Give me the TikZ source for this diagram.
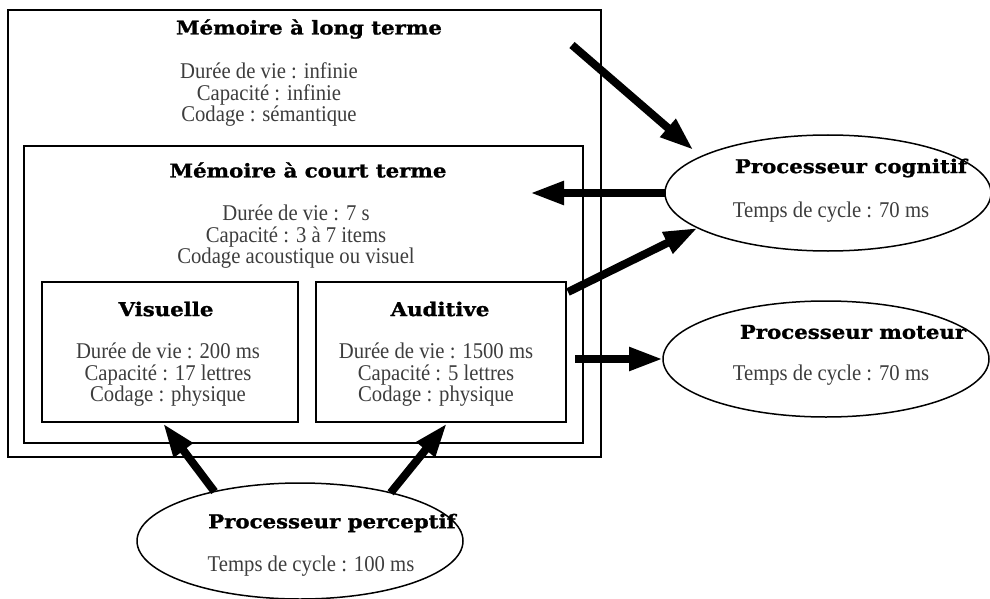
\documentclass[tikz,border=0pt]{standalone}
\usepackage{fontspec}
\setmainfont[FakeStretch=0.92]{Liberation Serif}
\newfontfamily\headfont[FakeStretch=1.12,FakeBold=1.2]{DejaVu Serif}
\usetikzlibrary{arrows.meta,shapes.geometric}
\definecolor{ink}{gray}{0.24}
\tikzset{
  frame/.style={draw=black, line width=2.6pt, rectangle, inner sep=0pt},
  proc/.style={draw=black, line width=1.5pt, ellipse, minimum width=326pt,
    minimum height=116pt, inner sep=0pt, outer sep=0pt},
  head/.style={font=\headfont\bfseries\fontsize{19}{22}\selectfont, text=black, inner sep=0pt},
  body/.style={font=\fontsize{22.5}{21.5}\selectfont, text=ink, align=center, inner sep=0pt},
  flow/.style={line width=8pt, -{Triangle[length=34pt,width=22pt]}},
}
\begin{document}
\begin{tikzpicture}[x=1pt,y=-1pt]
\useasboundingbox (0,0) rectangle (990,599);

% memory stores
\node[frame, minimum width=593pt, minimum height=447pt] (ltm) at (304.5,233.5) {};
\node[frame, minimum width=559pt, minimum height=297pt] (stm) at (303.5,294.5) {};
\node[frame, minimum width=256pt, minimum height=140pt] (vis) at (170,352) {};
\node[frame, minimum width=250pt, minimum height=140pt] (aud) at (441,352) {};

\node[head] (ltmT) at (309,29) {Mémoire à long terme};
\node[body] (ltmB) at (269,95) {Durée de vie : infinie\\Capacité : infinie\\Codage : sémantique};
\node[head] (stmT) at (308,170) {Mémoire à court terme};
\node[body] (stmB) at (296,237) {Durée de vie : 7 s\\Capacité : 3 à 7 items\\Codage acoustique ou visuel};
\node[head] (visT) at (166,309) {Visuelle};
\node[body] (visB) at (168,375) {Durée de vie : 200 ms\\Capacité : 17 lettres\\Codage : physique};
\node[head] (audT) at (440,309) {Auditive};
\node[body] (audB) at (436,375) {Durée de vie : 1500 ms\\Capacité : 5 lettres\\Codage : physique};

% processors
\node[proc] (cog) at (828,193) {};
\node[head] (cogT) at (851,168) {Processeur cognitif};
\node[body] (cogB) at (831,212) {Temps de cycle : 70 ms};
\node[proc] (mot) at (826,359) {};
\node[head] (motT) at (853,332) {Processeur moteur};
\node[body] (motB) at (831,375) {Temps de cycle : 70 ms};
\node[proc] (per) at (300,541) {};
\node[head] (perT) at (332,523) {Processeur perceptif};
\node[body] (perB) at (311,566) {Temps de cycle : 100 ms};

% information flow
\coordinate (a1s) at (572,45);
\coordinate (a2e) at (530,193);
\coordinate (a3s) at (568,292);
\coordinate (a4s) at (575,359);
\draw[flow, shorten >=10pt] (a1s) -- (cog.164);
\draw[flow] (cog.west) -- (a2e);
\draw[flow] (a3s) -- (cog.195);
\draw[flow] (a4s) -- (mot.west);
\draw[flow] (per.150) -- ([xshift=-7pt]vis.south);
\draw[flow] (per.28) -- ([xshift=6pt]aud.south);
\end{tikzpicture}
\end{document}
